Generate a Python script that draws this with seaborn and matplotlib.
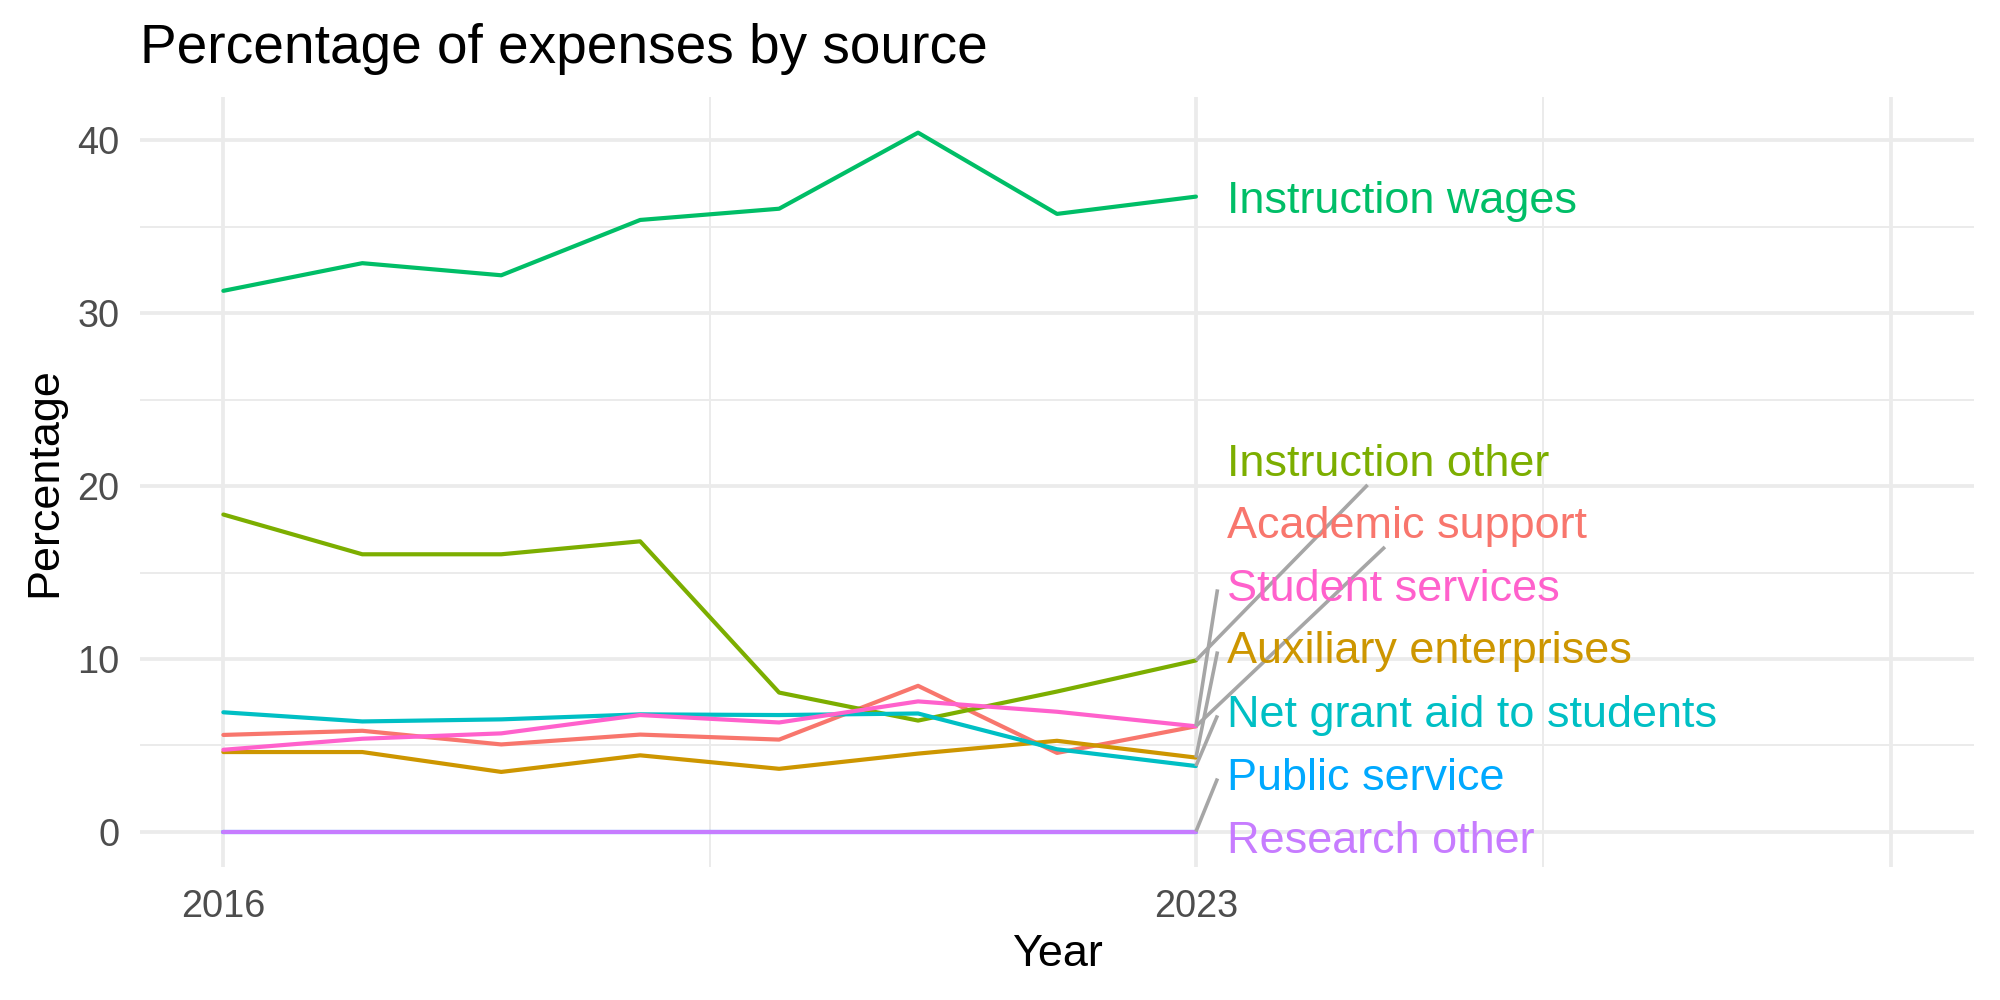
"""Percentage of expenses by source, with direct end labels."""

import matplotlib
matplotlib.use("Agg")
import matplotlib.pyplot as plt
import pandas as pd
import seaborn as sns

# Data
years = [2016, 2017, 2018, 2019, 2020, 2021, 2022, 2023]

academic_support = [5.61, 5.85, 5.06, 5.63, 5.34, 8.45, 4.57, 6.11]
auxiliary_enterprises = [4.62, 4.62, 3.47, 4.43, 3.65, 4.53, 5.27, 4.30]
instruction_other = [18.36, 16.06, 16.06, 16.81, 8.06, 6.44, 8.12, 9.92]
instruction_wages = [31.3, 32.9, 32.2, 35.4, 36.05, 40.45, 35.75, 36.75]
net_grant_aid = [6.92, 6.39, 6.51, 6.80, 6.76, 6.85, 4.78, 3.81]
public_service = [0.02, 0.02, 0.02, 0.02, 0.02, 0.02, 0.02, 0.02]
research_other = [0.0, 0.0, 0.0, 0.0, 0.0, 0.0, 0.0, 0.0]
student_services = [4.75, 5.39, 5.70, 6.76, 6.33, 7.55, 6.95, 6.11]

series_names = [
    "Academic support",
    "Auxiliary enterprises",
    "Instruction other",
    "Instruction wages",
    "Net grant aid to students",
    "Public service",
    "Research other",
    "Student services",
]
series_values = [
    academic_support,
    auxiliary_enterprises,
    instruction_other,
    instruction_wages,
    net_grant_aid,
    public_service,
    research_other,
    student_services,
]
# ggplot default hue palette for 8 groups
colors = ["#F8766D", "#CD9600", "#7CAE00", "#00BE67",
          "#00BFC4", "#00A9FF", "#C77CFF", "#FF61CC"]

# Repelled label positions (y in data units) and connector style
label_y = [17.67, 10.44, 21.26, 36.47, 6.74, 3.09, -0.55, 14.03]
connector = ["bottom", "left", "bottom", None, "left", "left", None, "left"]

rows = []
for name, vals in zip(series_names, series_values):
    for yr, v in zip(years, vals):
        rows.append({"Year": yr, "Percentage": v, "Source": name})
df = pd.DataFrame(rows)

sns.set_theme(style="whitegrid")
plt.rcParams["font.family"] = ["Liberation Sans", "DejaVu Sans"]

fig, ax = plt.subplots(figsize=(20, 10), dpi=100)
fig.subplots_adjust(left=0.07, right=0.987, bottom=0.133, top=0.9033)

sns.lineplot(
    data=df, x="Year", y="Percentage", hue="Source",
    hue_order=series_names, palette=colors,
    linewidth=3.0, legend=False, ax=ax,
)

ax.set_xlim(2015.4, 2028.6)
ax.set_ylim(-2.03, 42.53)
ax.set_xticks([2016, 2023, 2028])
ax.set_xticklabels(["2016", "2023", ""])
ax.set_xticks([2019.5, 2025.5], minor=True)
ax.set_yticks([0, 10, 20, 30, 40])
ax.set_yticks([5, 15, 25, 35], minor=True)

ax.set_facecolor("white")
ax.set_axisbelow(True)
ax.grid(which="major", color="#EBEBEB", linewidth=2.7)
ax.grid(which="minor", color="#EBEBEB", linewidth=1.4)
for s in ax.spines.values():
    s.set_visible(False)

ax.tick_params(axis="both", which="both", length=0, labelsize=27.3,
               labelcolor="#4D4D4D")
ax.tick_params(axis="x", pad=15.5)
ax.tick_params(axis="y", pad=14.7)

ax.set_xlabel("Year", fontsize=32.4, color="black")
ax.set_ylabel("Percentage", fontsize=32.4, color="black")
ax.xaxis.set_label_coords(0.5, -0.087)
ax.yaxis.set_label_coords(-0.0406, 0.5)
ax.set_title("Percentage of expenses by source", loc="left",
             fontsize=39.6, pad=24.5, color="black")

# End labels
label_x = years[-1] + 0.22
texts = []
for name, col, ly in zip(series_names, colors, label_y):
    t = ax.text(label_x, ly, name, color=col, fontsize=32.4,
                ha="left", va="center", zorder=5)
    texts.append(t)

fig.canvas.draw()
renderer = fig.canvas.get_renderer()
inv = ax.transData.inverted()
for vals, t, mode in zip(series_values, texts, connector):
    if mode is None:
        continue
    px, py = ax.transData.transform((years[-1], vals[-1]))
    bb = t.get_window_extent(renderer)
    cx, cy = (bb.x0 + bb.x1) / 2, (bb.y0 + bb.y1) / 2
    if mode == "bottom":
        frac = (bb.y0 - py) / (cy - py)
        ex, ey = px + frac * (cx - px), bb.y0
    else:
        ex, ey = bb.x0 - 9, cy
    (x0, y0), (x1, y1) = inv.transform([(px, py), (ex, ey)])
    ax.plot([x0, x1], [y0, y1], color="#A6A6A6", linewidth=2.6,
            solid_capstyle="butt", zorder=4)

fig.savefig("out.png", dpi=100, facecolor="white")
plt.close(fig)
